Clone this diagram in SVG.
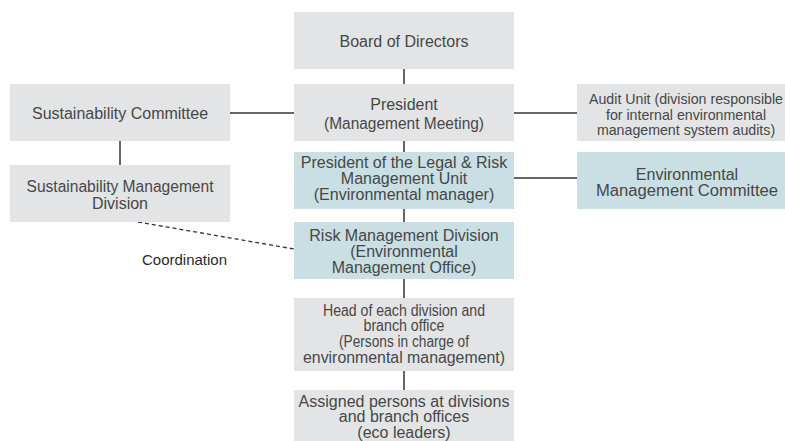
<svg xmlns="http://www.w3.org/2000/svg" width="785" height="441" viewBox="0 0 785 441">
  <style>
    .box { fill: #e3e4e6; }
    .env { fill: #c9dfe3; }
    .lbl { font-family: "Liberation Sans", Arial, sans-serif; font-size: 16px; fill: #474747; text-anchor: middle; }
    .sm { font-size: 14.2px; }
    .note { font-family: "Liberation Sans", Arial, sans-serif; font-size: 15px; fill: #2a2a2a; }
    .link { stroke: #333; stroke-width: 1.5; fill: none; }
    .dash { stroke: #333; stroke-width: 1.3; fill: none; stroke-dasharray: 4 3; }
  </style>
  <rect width="785" height="441" fill="#ffffff"/>

  <!-- connectors -->
  <g id="connectors">
    <line class="link" x1="404" y1="69" x2="404" y2="84"/>
    <line class="link" x1="404" y1="141" x2="404" y2="152"/>
    <line class="link" x1="404" y1="209" x2="404" y2="222"/>
    <line class="link" x1="404" y1="279" x2="404" y2="298"/>
    <line class="link" x1="404" y1="371" x2="404" y2="390"/>
    <line class="link" x1="230" y1="113" x2="294" y2="113"/>
    <line class="link" x1="514" y1="113" x2="577" y2="113"/>
    <line class="link" x1="514" y1="178" x2="577" y2="178"/>
    <line class="link" x1="120" y1="141" x2="120" y2="165"/>
    <line class="dash" x1="138" y1="222" x2="294" y2="249"/>
    <text class="note" x="142" y="265">Coordination</text>
  </g>

  <g id="board">
    <rect class="box" x="294" y="12" width="220" height="57"/>
    <text class="lbl" x="404" y="46.5">Board of Directors</text>
  </g>

  <g id="president">
    <rect class="box" x="294" y="84" width="220" height="57"/>
    <text class="lbl" x="404" y="110">President</text>
    <text class="lbl" x="404" y="128.5" textLength="160" lengthAdjust="spacingAndGlyphs">(Management Meeting)</text>
  </g>

  <g id="sustainability-committee">
    <rect class="box" x="10" y="84" width="220" height="57"/>
    <text class="lbl" x="120" y="119">Sustainability Committee</text>
  </g>

  <g id="sustainability-division">
    <rect class="box" x="10" y="165" width="220" height="57"/>
    <text class="lbl" x="120" y="191.5" textLength="187" lengthAdjust="spacingAndGlyphs">Sustainability Management</text>
    <text class="lbl" x="120" y="209">Division</text>
  </g>

  <g id="audit-unit">
    <rect class="box" x="577" y="84" width="208" height="57"/>
    <text class="lbl sm" x="686" y="103.5">Audit Unit (division responsible</text>
    <text class="lbl sm" x="686" y="119.5">for internal environmental</text>
    <text class="lbl sm" x="686" y="135">management system audits)</text>
  </g>

  <g id="legal-risk-president">
    <rect class="env" x="294" y="152" width="220" height="57"/>
    <text class="lbl" x="404" y="168">President of the Legal &amp; Risk</text>
    <text class="lbl" x="404" y="184">Management Unit</text>
    <text class="lbl" x="404" y="200">(Environmental manager)</text>
  </g>

  <g id="env-committee">
    <rect class="env" x="577" y="152" width="208" height="57"/>
    <text class="lbl" x="687" y="179.5">Environmental</text>
    <text class="lbl" x="687" y="195.5" textLength="182" lengthAdjust="spacingAndGlyphs">Management Committee</text>
  </g>

  <g id="risk-division">
    <rect class="env" x="294" y="222" width="220" height="57"/>
    <text class="lbl" x="404" y="240.5">Risk Management Division</text>
    <text class="lbl" x="404" y="256.5">(Environmental</text>
    <text class="lbl" x="404" y="272.5">Management Office)</text>
  </g>

  <g id="division-heads">
    <rect class="box" x="294" y="298" width="220" height="73"/>
    <text class="lbl" x="404" y="315.7" textLength="162" lengthAdjust="spacingAndGlyphs">Head of each division and</text>
    <text class="lbl" x="404" y="331.3" textLength="81" lengthAdjust="spacingAndGlyphs">branch office</text>
    <text class="lbl" x="404" y="347" textLength="130" lengthAdjust="spacingAndGlyphs">(Persons in charge of</text>
    <text class="lbl" x="404" y="363" textLength="202" lengthAdjust="spacingAndGlyphs">environmental management)</text>
  </g>

  <g id="eco-leaders">
    <rect class="box" x="294" y="390" width="220" height="51"/>
    <text class="lbl" x="404" y="406.5">Assigned persons at divisions</text>
    <text class="lbl" x="404" y="422">and branch offices</text>
    <text class="lbl" x="404" y="437.5">(eco leaders)</text>
  </g>
</svg>
